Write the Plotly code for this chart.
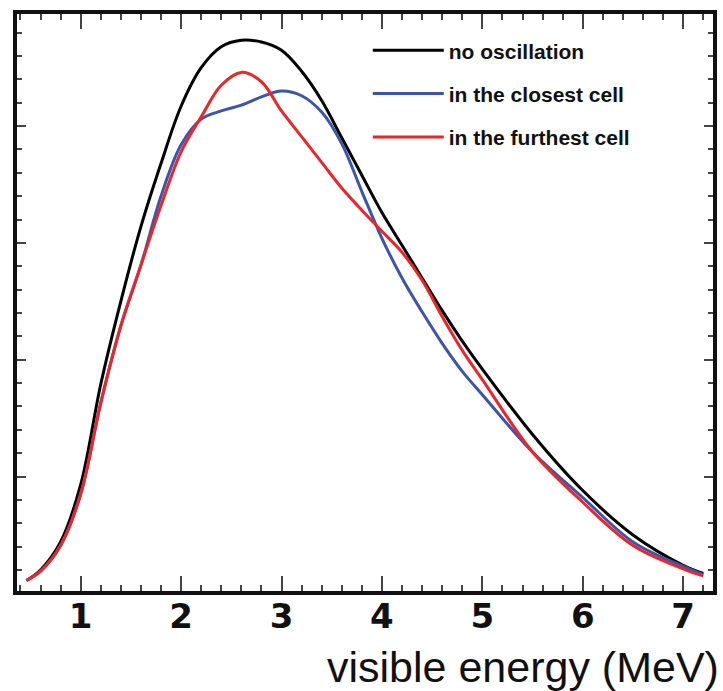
import plotly.graph_objects as go

# Visible energy (MeV)
energy = [0.46, 0.6, 0.8, 1.0, 1.2, 1.4, 1.6, 1.8, 2.0, 2.2, 2.4, 2.6, 2.8, 3.0,
          3.2, 3.4, 3.6, 3.8, 4.0, 4.2, 4.4, 4.6, 4.8, 5.0, 5.5, 6.0, 6.5, 7.0, 7.2]

no_osc = [0.11, 0.20, 0.44, 0.93, 1.79, 2.50, 3.14, 3.68, 4.17, 4.50, 4.68, 4.735, 4.72, 4.65,
          4.47, 4.22, 3.90, 3.58, 3.26, 2.98, 2.70, 2.42, 2.16, 1.92, 1.36, 0.88, 0.50, 0.24, 0.17]

closest = [0.11, 0.19, 0.41, 0.85, 1.63, 2.29, 2.81, 3.40, 3.84, 4.06, 4.13, 4.18, 4.25, 4.30,
           4.26, 4.12, 3.85, 3.44, 3.04, 2.70, 2.41, 2.14, 1.90, 1.70, 1.21, 0.82, 0.44, 0.23, 0.16]

furthest = [0.11, 0.19, 0.41, 0.85, 1.63, 2.29, 2.81, 3.32, 3.78, 4.08, 4.35, 4.46, 4.38, 4.13,
            3.91, 3.69, 3.47, 3.28, 3.10, 2.92, 2.68, 2.37, 2.08, 1.83, 1.21, 0.78, 0.41, 0.21, 0.15]

series_names = ["no oscillation", "in the closest cell", "in the furthest cell"]
series_colors = ["#000000", "#3b55ae", "#ee2528"]
x_tick_vals = [1, 2, 3, 4, 5, 6, 7]
x_tick_text = ["1", "2", "3", "4", "5", "6", "7"]

fig = go.Figure()
for name, vals, col in zip(series_names, [no_osc, closest, furthest], series_colors):
    fig.add_trace(go.Scatter(
        x=energy, y=vals, mode="lines", name=name, legendgroup=name,
        line=dict(color=col, width=3, shape="spline", smoothing=1.0),
    ))

axis_common = dict(
    showgrid=False, zeroline=False, showline=True, linecolor="#111111", linewidth=4,
    mirror="ticks", ticks="inside", tickcolor="#444444", tickwidth=2,
)

fig.update_xaxes(
    range=[0.366, 7.297], tickvals=x_tick_vals, ticktext=x_tick_text, ticklen=15,
    tickfont=dict(family="DejaVu Sans", size=34, color="#111111", weight="bold"),
    ticklabelstandoff=-8,
    minor=dict(ticks="inside", ticklen=6, dtick=0.2, tick0=0, tickcolor="#444444", tickwidth=2, showgrid=False),
    **axis_common,
)
fig.update_yaxes(
    range=[0.02, 4.96], dtick=1, tick0=0, ticklen=9, showticklabels=False,
    minor=dict(ticks="inside", ticklen=5, dtick=0.2, tick0=0, tickcolor="#444444", tickwidth=2, showgrid=False),
    **axis_common,
)

fig.add_annotation(
    text="visible energy (MeV)", xref="paper", yref="paper", x=1.0, y=0.0,
    xanchor="right", yanchor="middle", yshift=-76, xshift=8, showarrow=False,
    font=dict(family="Liberation Sans", size=43, color="#111111"),
)

fig.update_layout(
    width=723, height=691,
    margin=dict(l=17, r=6, t=14, b=100),
    paper_bgcolor="white", plot_bgcolor="white",
    showlegend=True,
    legend=dict(
        x=0.504, y=0.972, xanchor="left", yanchor="top",
        bgcolor="rgba(0,0,0,0)", borderwidth=0,
        font=dict(family="Liberation Sans", size=21, color="#111111", weight="bold"),
        itemwidth=71, tracegroupgap=13,
    ),
)

fig.write_html("out.html")
